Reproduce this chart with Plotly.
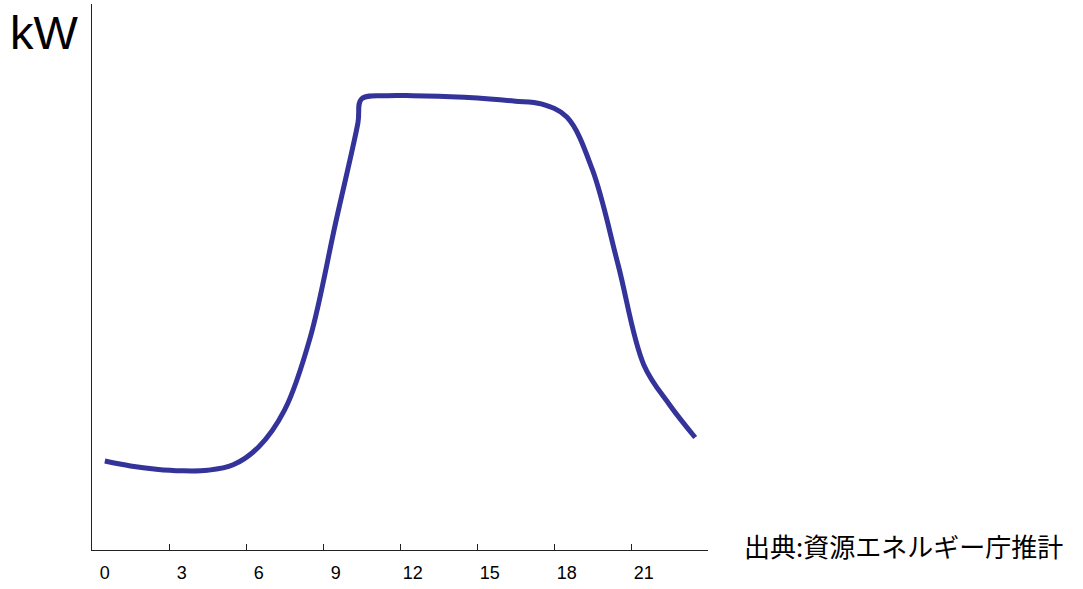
import plotly.graph_objects as go

# Data (hour of day, relative demand level; y axis has no scale in the source)
hours = [0, 1, 2, 3, 4, 5, 6, 7, 8, 9, 9.86, 10, 11, 12, 13, 14, 15, 16, 17, 18, 19, 20, 21, 22, 23]
demand = [16.3, 15.4, 14.8, 14.5, 14.6, 15.6, 18.9, 25.6, 38.9, 60.1, 78.2, 82.6, 83.2, 83.2, 83.1,
          82.9, 82.6, 82.2, 81.7, 79.3, 69.6, 52.2, 33.9, 26.6, 20.6]
tick_labels = [0, 3, 6, 9, 12, 15, 18, 21]
boundary_ticks = [2.5, 5.5, 8.5, 11.5, 14.5, 17.5, 20.5, 23.5]

fig = go.Figure()
fig.add_trace(go.Scatter(
    x=hours, y=demand, mode="lines",
    line=dict(color="#333399", width=5, shape="spline", smoothing=1.0),
    hoverinfo="skip", showlegend=False,
))
# invisible trace so the tick-mark overlay axis is drawn
fig.add_trace(go.Scatter(x=[boundary_ticks[0]], y=[demand[0]], xaxis="x2", mode="markers",
                         marker=dict(opacity=0), showlegend=False, hoverinfo="skip"))

axis_font = dict(family="Liberation Sans Narrow, Arial Narrow, Liberation Sans, sans-serif", size=18, color="#000000")

fig.update_layout(
    width=1083, height=589,
    margin=dict(l=92, r=375, t=4, b=39),
    paper_bgcolor="white", plot_bgcolor="white",
    xaxis=dict(range=[-0.5, 23.5], tickvals=tick_labels, ticktext=[str(t) for t in tick_labels],
               ticks="", showgrid=False, zeroline=False, showline=True, linecolor="#222222",
               linewidth=1, tickfont=axis_font, ticklabelstandoff=6),
    xaxis2=dict(range=[-0.5, 23.5], overlaying="x", side="bottom", anchor="y",
                tickvals=boundary_ticks, ticks="inside", ticklen=6, tickcolor="#222222",
                showticklabels=False, showgrid=False, zeroline=False, showline=False),
    yaxis=dict(range=[0, 100], showticklabels=False, ticks="", showgrid=False, zeroline=False,
               showline=True, linecolor="#222222", linewidth=1),
    annotations=[
        dict(text="kW", xref="paper", yref="paper", x=-0.137, y=1.0, xanchor="left", yanchor="top",
             showarrow=False, font=dict(family="Liberation Sans, Arial, sans-serif", size=47, color="#000000")),
        dict(text="出典:資源エネルギー庁推計", xref="paper", yref="paper", x=1.055, y=0.008,
             xanchor="left", yanchor="middle", showarrow=False,
             font=dict(family="Noto Sans CJK JP, sans-serif", size=26, color="#000000")),
    ],
)

fig.write_html("out.html", config={"displayModeBar": False},
               post_script="document.body.style.margin='0';document.body.style.overflow='hidden';")
